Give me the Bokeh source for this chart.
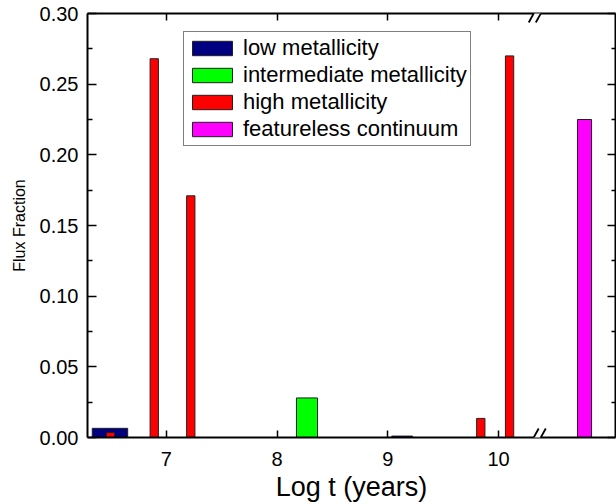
from bokeh.plotting import figure
from bokeh.models import (Range1d, LinearAxis, FixedTicker, NumeralTickFormatter, Legend,
                          LegendItem, Arrow, ColumnDataSource)
from bokeh.embed import file_html
from bokeh.resources import INLINE

# ---- data ----
low_x = [6.49, 9.13]
low_y = [0.0065, 0.001]
low_w = [0.32, 0.19]

inter_x = [8.27]
inter_y = [0.028]
inter_w = [0.19]

high_x = [6.495, 6.89, 7.22, 9.84, 10.10]
high_y = [0.0035, 0.268, 0.171, 0.0135, 0.270]
high_w = [0.075, 0.075, 0.075, 0.075, 0.075]

fc_x = [10.777]          # placed after the axis break
fc_y = [0.225]
fc_w = [0.127]

x_ticks = [7, 8, 9, 10]
y_ticks = [0.0, 0.05, 0.10, 0.15, 0.20, 0.25, 0.30]
y_minor = [0.025, 0.075, 0.125, 0.175, 0.225, 0.275]
break_x = 10.35

FONT = "Liberation Sans"
Y0, Y1 = 0.0, 0.30

p = figure(width=616, height=504, output_backend="svg", toolbar_location=None,
           x_range=Range1d(6.287, 11.057), y_range=Range1d(Y0, Y1),
           min_border_left=87, min_border_right=1, min_border_top=13, min_border_bottom=67)
p.grid.visible = False
p.outline_line_color = None
p.background_fill_color = "white"

def bars(x, y, w, color):
    src = ColumnDataSource(dict(x=x, top=y, w=w))
    return p.vbar(x="x", top="top", width="w", bottom=0, source=src,
                  fill_color=color, line_color="#202020", line_width=1)

r_low = bars(low_x, low_y, low_w, "#000080")
r_int = bars(inter_x, inter_y, inter_w, "#00FF00")
r_high = bars(high_x, high_y, high_w, "#FF0000")
r_fc = bars(fc_x, fc_y, fc_w, "#FF00FF")

def style_axis(ax, labels=True):
    ax.axis_line_color = "black"
    ax.axis_line_width = 2
    ax.major_tick_line_color = "black"
    ax.major_tick_line_width = 1.5
    ax.minor_tick_line_color = "black"
    ax.minor_tick_line_width = 1.5
    ax.major_tick_out = 0
    ax.minor_tick_out = 0
    if not labels:
        ax.major_label_text_color = None
        ax.major_label_text_font_size = "1px"
        ax.major_label_standoff = 0

xa = p.xaxis[0]
xa.ticker = FixedTicker(ticks=x_ticks)
style_axis(xa)
xa.major_tick_in = 7
xa.minor_tick_line_color = None
xa.major_label_text_font = FONT
xa.major_label_text_font_size = "20px"
xa.major_label_text_color = "black"
xa.major_label_standoff = 14
xa.axis_label = "Log t (years)"
xa.axis_label_text_font = FONT
xa.axis_label_text_font_size = "27px"
xa.axis_label_text_font_style = "normal"
xa.axis_label_text_color = "black"
xa.axis_label_standoff = 3

ya = p.yaxis[0]
ya.ticker = FixedTicker(ticks=y_ticks, minor_ticks=y_minor)
ya.formatter = NumeralTickFormatter(format="0.00")
style_axis(ya)
ya.major_tick_in = 9
ya.minor_tick_in = 5
ya.major_label_text_font = FONT
ya.major_label_text_font_size = "20px"
ya.major_label_text_color = "black"
ya.major_label_standoff = 9
ya.axis_label = "Flux Fraction"
ya.axis_label_text_font = FONT
ya.axis_label_text_font_size = "16px"
ya.axis_label_text_font_style = "normal"
ya.axis_label_text_color = "black"
ya.axis_label_standoff = 9

top = LinearAxis(ticker=FixedTicker(ticks=x_ticks))
style_axis(top, labels=False)
top.major_tick_in = 7
top.minor_tick_line_color = None
p.add_layout(top, "above")

right = LinearAxis(ticker=FixedTicker(ticks=y_ticks, minor_ticks=y_minor))
style_axis(right, labels=False)
right.major_tick_in = 8
right.minor_tick_in = 4
p.add_layout(right, "right")

# axis break marks "//" on the bottom and top axes
dx_half, dy_half, gap = 0.045, 0.0064, 0.032
for yv in (Y0, Y1):
    p.add_layout(Arrow(end=None, x_start=break_x - gap, y_start=yv,
                       x_end=break_x + gap, y_end=yv, line_color="white", line_width=4))
    for off in (-gap, gap):
        c = break_x + off
        p.add_layout(Arrow(end=None, x_start=c - dx_half, y_start=yv - dy_half,
                           x_end=c + dx_half, y_end=yv + dy_half,
                           line_color="black", line_width=1.8))

legend = Legend(items=[
    LegendItem(label="low metallicity", renderers=[r_low]),
    LegendItem(label="intermediate metallicity", renderers=[r_int]),
    LegendItem(label="high metallicity", renderers=[r_high]),
    LegendItem(label="featureless continuum", renderers=[r_fc]),
], location=(96, 291))
legend.label_text_font = FONT
legend.label_text_font_size = "22px"
legend.label_text_color = "black"
legend.glyph_width = 50
legend.glyph_height = 18
legend.label_standoff = 6
legend.spacing = 1
legend.padding = 3
legend.margin = 0
legend.border_line_color = "black"
legend.border_line_width = 1
legend.background_fill_alpha = 1
p.add_layout(legend, "center")

open("out.html", "w").write(file_html(p, INLINE))
